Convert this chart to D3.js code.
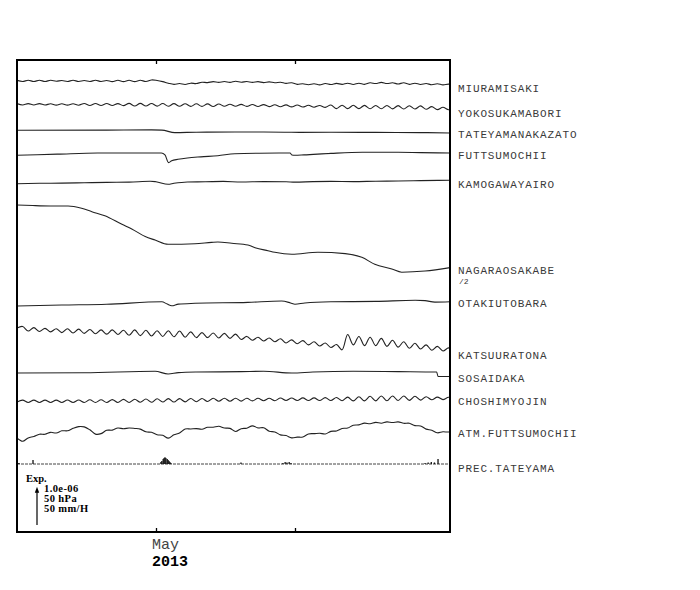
<!DOCTYPE html>
<html><head><meta charset="utf-8">
<script src="https://cdn.jsdelivr.net/npm/d3@7"></script>
<style>html,body{margin:0;padding:0;background:#fff;}svg{display:block;}</style>
</head><body>
<script>
// ---------------- DATA ----------------
// time origin: day 0 = 2013-03-31 00:00 UTC
const startDate = "2013-03-31";
const endDay = 96.57;
const monthTicks = ["2013-05-01", "2013-06-01"];
const tickLabels = ["May", ""];
const yearLabel = "2013";

const stationNames = ["MIURAMISAKI","YOKOSUKAMABORI","TATEYAMANAKAZATO","FUTTSUMOCHII","KAMOGAWAYAIRO",
  "NAGARAOSAKABE","OTAKIUTOBARA","KATSUURATONA","SOSAIDAKA","CHOSHIMYOJIN","ATM.FUTTSUMOCHII","PREC.TATEYAMA"];

// uniformly sampled series: one value every waveStep days from day 0
const waveStep = 1.25;
// strain, units of 1e-8
const miuramisaki = [0.5,-2.5,0.5,-2.5,0.5,-2.5,0.5,-2,0,-2.5,0.5,-2.5,0,-2.5,0.5,-2.5,0,
  -3,0.5,-3,0.5,-3,0.5,-2.5,1.5,0,-3,-7,-10,-8,-10.5,-7,-8,-4.5,-5.5,-3,-5,-2.5,-5,-2,-4.5,-2.5,-5,-3,
  -5.5,-3.5,-6,-4.5,-7.5,-6,-10,-8.5,-11,-8.5,-11.5,-8,-10.5,-7.5,-10,-7,-10.5,-7,-10,-6,-8,-5,-8,-6,
  -9,-6,-10,-7,-10.5,-8,-11,-8.5,-11.5,-9.5,-12];
const yokosukamabori = [1.8,-1.8,1.8,-1.9,1.7,-2,1.6,-2.1,1.6,-2.2,1.5,-2.3,2.1,-3,2,-3.1,1.9,-3.2,1.7,-3.4,
  2.4,-4.4,2.3,-4.6,2.1,-4.8,1.9,-5,1.7,-5.2,1.5,-5.4,1.3,-5.5,1.1,-5.7,0.9,-5.1,0,-5.2,-0.2,-5.4,-0.4,-5.6,
  -0.8,-6,-1.2,-6.4,-1.6,-6.8,-2,-7,-2.6,-7.6,-3,-8,-1.8,-11.2,-2.4,-11.4,-2.6,-11.4,-2.8,-11.6,-3,-11.8,
  -3.2,-12,-3.4,-12.2,-3.6,-12.4,-4.2,-13,-6,-14,-7.6,-14.2,-9];
const katsuuratona = [0,4,-8,1,-9,-1,-10,-2,-12,-2,-13,-3,-14,-4,-15,-5,-16,-5,-17,-6,-19,-5,-20,-6,-21,-7,
  -22,-7,-23,-8,-24,-10,-25,-12,-25,-13,-26,-14,-27,-16,-30,-22,-32,-24,-34,-26,-36,-28,-39,-31,-41,-33,
  -44,-36,-47,-39,-51,-43,-57,-17,-44,-22,-46,-24,-46,-27,-48,-32,-50,-36,-53,-40,-55,-44,-58,-48,-60,-52,-62];
const choshimyojin = [-2,3,-3,3,-3,3,-3,3,-3,3.5,-3,3.5,-3,4,-3,4,-3,4.5,-3,5,-3,5.5,-2.5,6,-2.5,6.5,-2,7,
  -2,7,-1.5,7.5,-1,7.5,-0.5,8,0,8,0,8,0.5,8,1,8,1.5,8,1.5,8.5,2,8.5,2,9,2,9,2,9.5,2,10,1.5,11,1,12,1,13,
  1,14,1.5,14,2,14,2.5,13,3,12,4,11,4.5,10.5,6];
// atmospheric pressure, hPa
const atmFuttsumochii = [1001.1,996.8,1001.2,1003.1,1006.0,1006.0,1008.5,1007.6,1010.5,1010.5,1013.7,1016.0,
  1015.6,1011.8,1006.2,1006.8,1011.2,1011.4,1014.1,1013.2,1014.1,1013.6,1012.7,1009.2,1008.5,1005.4,1004.6,
  1001.0,1005.3,1007.7,1012.8,1012.9,1013.4,1012.6,1015.1,1015.1,1016.5,1014.1,1013.7,1009.6,1013.3,1013.9,
  1017.0,1014.3,1014.5,1010.0,1009.0,1005.2,1004.3,1001.3,1002.2,1002.5,1006.4,1006.8,1007.4,1006.4,1009.8,
  1010.3,1013.6,1014.1,1017.8,1018.3,1020.5,1019.7,1021.5,1020.4,1022.2,1021.3,1022.2,1020.3,1020.4,1017.3,
  1016.9,1012.7,1011.3,1007.9,1009.2,1008.9,1010.4];

// strain, units of 1e-8, [day, value]
const tateyamanakazato = [[0,0],[20,0.5],[30,1],[32.3,0.5],[35.2,-6],[40,-5],[48.6,-4.5],[55,-4.5],[60,-5],
  [63,-5.5],[70,-5],[80,-5.5],[90,-6],[96.6,-7]];
const futtsumochii = [[0,0],[9,3],[18,6],[32.2,6],[33,1],[33.8,-19],[34.5,-14],[35.9,-10.5],[38,-7],[41,-4],
  [44.8,-1],[48.6,4],[54,5.5],[60.9,6],[61.3,1],[62,0],[64,1],[70,5],[77,8],[85,8],[90,7],[96.6,6]];
const kamogawayairo = [[0,0],[5,1],[10,1.5],[15,2.5],[20,3.5],[25,4],[29.7,6.5],[31,5],[33.7,-1.5],[35,1],
  [38,4.5],[42,5],[46,6],[50,4.5],[55,5.5],[60,5],[62,4],[66,5.5],[70,6],[75,5.5],[80,6.5],[85,7],[90,8],[96.6,9]];
const nagaraosakabe = [[0,0],[3.5,-3],[7.4,-5],[11.4,-5],[14.4,-17],[16.7,-35],[19.6,-56],[23.4,-101],
  [25.6,-125],[28.6,-165],[30.8,-183],[33.7,-205],[39.7,-202],[43.4,-195],[44.8,-193],[47.9,-200],[51.5,-209],
  [53.1,-223],[56,-239],[57.5,-247],[61.3,-257],[67.1,-247],[73.2,-254],[76.9,-273],[79.8,-310],[83.6,-334],
  [85.8,-351],[91,-345],[96.6,-327]];
const otakiutobara = [[0,0],[10,2.5],[20,4.5],[32.3,11],[33.5,5],[34.5,0.5],[36,5],[39.7,7],[51.5,9.5],
  [59,13],[61,8],[62,4.5],[64.2,8],[70,11],[80,12],[88.8,15],[91,14],[93.2,10],[96.6,11]];
const sosaidaka = [[0,0],[15,0.5],[30.8,4.5],[33.7,-2.5],[36,1],[40,2.5],[50,3.5],[55,4.5],[61.3,0],[66,2.5],
  [75,4.5],[85,3.5],[93.6,2.5],[93.9,-9],[96.6,-9]];

// precipitation, mm/H, [day, value]
const precTateyama = [[0.22,1.3],[0.45,1.3],[3.57,5.2],[32.1,2.6],[32.3,3.9],[32.6,6.5],[32.8,7.8],[33.0,8.8],
  [33.2,7.8],[33.5,6.5],[33.7,5.2],[33.9,3.9],[34.1,2.6],[34.3,1.3],[49.95,2],[59.3,1.3],[59.8,2.6],[60.2,2],
  [60.7,2.6],[61.1,1.3],[91.0,1.3],[91.7,2],[92.4,2.6],[93.1,2],[93.9,6.5]];

const scaleLabels = ["Exp.", "1.0e-06", "50 hPa", "50 mm/H"];
const scaleUnits = {strain: 100, atm: 50, prec: 50}; // values spanned by the scale arrow

// ---------------- LAYOUT ----------------
const W = 700, H = 590;
const plot = {left: 17, right: 450, top: 60, bottom: 532};
const arrowLen = 38.3;
// pixel row of each trace's reference value, and label baselines
const rows = {
  MIURAMISAKI: {base: 80.5, label: 92},
  YOKOSUKAMABORI: {base: 104.3, label: 116.7},
  TATEYAMANAKAZATO: {base: 130.3, label: 138.3},
  FUTTSUMOCHII: {base: 155.3, label: 159.3},
  KAMOGAWAYAIRO: {base: 183.7, label: 188.3},
  NAGARAOSAKABE: {base: 205, label: 274, gain: 0.5},
  OTAKIUTOBARA: {base: 306, label: 307.3},
  KATSUURATONA: {base: 328, label: 359.3},
  SOSAIDAKA: {base: 373, label: 381.7},
  CHOSHIMYOJIN: {base: 401.3, label: 405},
  "ATM.FUTTSUMOCHII": {base: 422, ref: 1022, label: 436.7},
  "PREC.TATEYAMA": {base: 464, label: 471.7}
};

const t0 = new Date(startDate + "T00:00:00Z").getTime();
const toDate = d => new Date(t0 + d * 864e5);
const x = d3.scaleUtc().domain([toDate(0), toDate(endDay)]).range([plot.left, plot.right]);

const svg = d3.select("body").append("svg").attr("width", W).attr("height", H);
svg.append("defs").append("clipPath").attr("id", "clip")
  .append("rect").attr("x", plot.left).attr("y", plot.top)
  .attr("width", plot.right - plot.left).attr("height", plot.bottom - plot.top);

const g = svg.append("g").attr("clip-path", "url(#clip)");

function sampled(arr) { return arr.map((v, i) => [i * waveStep, v]); }

const series = [
  {name: "MIURAMISAKI", data: sampled(miuramisaki), wave: true},
  {name: "YOKOSUKAMABORI", data: sampled(yokosukamabori), wave: true},
  {name: "TATEYAMANAKAZATO", data: tateyamanakazato},
  {name: "FUTTSUMOCHII", data: futtsumochii},
  {name: "KAMOGAWAYAIRO", data: kamogawayairo},
  {name: "NAGARAOSAKABE", data: nagaraosakabe},
  {name: "OTAKIUTOBARA", data: otakiutobara},
  {name: "KATSUURATONA", data: sampled(katsuuratona), wave: true},
  {name: "SOSAIDAKA", data: sosaidaka},
  {name: "CHOSHIMYOJIN", data: sampled(choshimyojin), wave: true},
  {name: "ATM.FUTTSUMOCHII", data: sampled(atmFuttsumochii), wave: true, atm: true}
];

series.forEach(s => {
  const r = rows[s.name];
  let y;
  if (s.atm) {
    y = d3.scaleLinear().domain([r.ref, r.ref + scaleUnits.atm]).range([r.base, r.base - arrowLen]);
  } else {
    const gain = r.gain || 1;
    y = d3.scaleLinear().domain([0, scaleUnits.strain]).range([r.base, r.base - arrowLen * gain]);
  }
  const line = d3.line()
    .x(d => x(toDate(d[0])))
    .y(d => y(d[1]))
    .curve(s.wave ? d3.curveCatmullRom.alpha(0.5) : d3.curveMonotoneX);
  g.append("path").datum(s.data).attr("d", line)
    .attr("fill", "none").attr("stroke", "#222").attr("stroke-width", 1.1);
});

// precipitation
{
  const r = rows["PREC.TATEYAMA"];
  const yp = d3.scaleLinear().domain([0, scaleUnits.prec]).range([r.base, r.base - arrowLen]);
  g.append("line").attr("x1", plot.left).attr("x2", plot.right)
    .attr("y1", yp(0)).attr("y2", yp(0))
    .attr("stroke", "#444").attr("stroke-width", 1).attr("stroke-dasharray", "3,1");
  g.selectAll("line.prec").data(precTateyama).join("line").attr("class", "prec")
    .attr("x1", d => x(toDate(d[0]))).attr("x2", d => x(toDate(d[0])))
    .attr("y1", yp(0)).attr("y2", d => yp(d[1]))
    .attr("stroke", "#111").attr("stroke-width", 1.3);
}

// frame
svg.append("rect").attr("x", plot.left).attr("y", plot.top)
  .attr("width", plot.right - plot.left).attr("height", plot.bottom - plot.top)
  .attr("fill", "none").attr("stroke", "#000").attr("stroke-width", 2);

// month ticks (inside, top and bottom)
const tickDates = monthTicks.map(s => new Date(s + "T00:00:00Z"));
const axB = d3.axisBottom(x).tickValues(tickDates).tickSize(-4).tickFormat("");
const axT = d3.axisTop(x).tickValues(tickDates).tickSize(-4).tickFormat("");
const gb = svg.append("g").attr("transform", `translate(0,${plot.bottom})`).call(axB);
const gt = svg.append("g").attr("transform", `translate(0,${plot.top})`).call(axT);
[gb, gt].forEach(a => {
  a.select(".domain").remove();
  a.selectAll(".tick line").attr("stroke", "#000").attr("stroke-width", 1.3);
});
const monoFont = "'Liberation Mono', 'Courier New', monospace";
tickDates.forEach((d, i) => {
  if (!tickLabels[i]) return;
  svg.append("text").attr("x", x(d) - 4).attr("y", 549)
    .attr("font-family", monoFont).attr("font-size", 15).attr("fill", "#444").text(tickLabels[i]);
});
svg.append("text").attr("x", x(tickDates[0]) - 4).attr("y", 566)
  .attr("font-family", monoFont).attr("font-weight", "bold").attr("font-size", 15)
  .attr("fill", "#000").text(yearLabel);

// station labels
stationNames.forEach(n => {
  svg.append("text").attr("x", 458).attr("y", rows[n].label)
    .attr("font-family", monoFont).attr("font-size", 11).attr("letter-spacing", 0.86)
    .attr("fill", "#3a3a3a").text(n);
});
svg.append("text").attr("x", 459).attr("y", 283.5)
  .attr("font-family", monoFont).attr("font-size", 8).attr("fill", "#333").text("/2");

// scale arrow legend
const sy = 525;
svg.append("line").attr("x1", 37).attr("x2", 37).attr("y1", sy).attr("y2", sy - arrowLen + 3)
  .attr("stroke", "#000").attr("stroke-width", 1.2);
svg.append("path").attr("d", `M37,${sy - arrowLen} l-2.2,6 l4.4,0 z`).attr("fill", "#000");
const lf = "'Liberation Serif', 'DejaVu Serif', serif";
svg.append("text").attr("x", 26).attr("y", 481.5).attr("font-family", lf).attr("font-weight", "bold")
  .attr("font-size", 10.5).text(scaleLabels[0]);
scaleLabels.slice(1).forEach((t, i) => {
  svg.append("text").attr("x", 44).attr("y", 491.7 + i * 10).attr("font-family", lf)
    .attr("font-weight", "bold").attr("font-size", 10.5).attr("letter-spacing", 0.4).text(t);
});
</script>
</body></html>
